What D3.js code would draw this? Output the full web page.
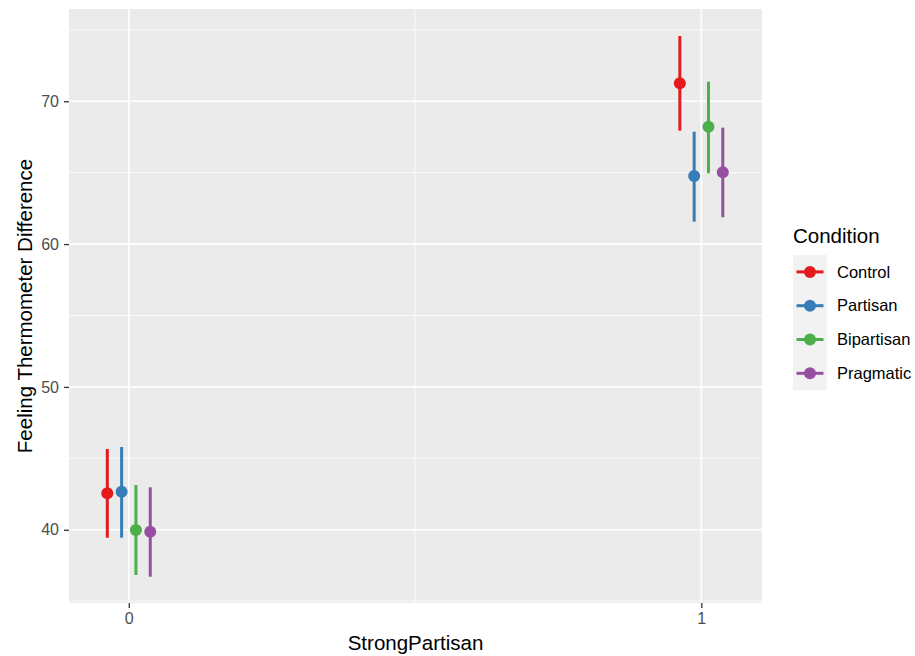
<!DOCTYPE html>
<html>
<head>
<meta charset="utf-8">
<script src="https://cdn.jsdelivr.net/npm/d3@7"></script>
<style>
  body { margin: 0; background: #fff; }
  text { font-family: "Liberation Sans", Arial, sans-serif; }
</style>
</head>
<body>
<div id="mydata"></div>
<script>
// data
var conditions = ["Control", "Partisan", "Bipartisan", "Pragmatic"];
var color = ["#E41A1C", "#377EB8", "#4DAF4A", "#984EA3"];
var strongPartisan = [0, 1];
// means, lower and upper bounds, by StrongPartisan group (rows) and condition (cols)
var means = [[42.55, 42.66, 39.98, 39.86], [71.26, 64.77, 68.22, 65.03]];
var lower = [[39.44, 39.44, 36.83, 36.71], [67.94, 61.57, 64.96, 61.88]];
var upper = [[45.65, 45.79, 43.13, 42.97], [74.57, 67.87, 71.37, 68.15]];
var yTicks = [40, 50, 60, 70];
var yMinor = [35, 45, 55, 65, 75];
var xMinor = [0.5];
var dodgeWidth = 0.1;

var rows = [];
strongPartisan.forEach(function(g, i) {
  conditions.forEach(function(c, j) {
    rows.push({group: g, cond: c, k: j, mean: means[i][j], lo: lower[i][j], hi: upper[i][j]});
  });
});

// location and scale of the graph
var W = 915, H = 656;
var panel = {left: 69, top: 9, right: 762, bottom: 603};

var svg = d3.select("#mydata")
  .append("svg")
  .attr("width", W)
  .attr("height", H);

var x = d3.scaleLinear()
  .domain([-0.1044, 1.106])
  .range([panel.left, panel.right]);

var y = d3.scaleLinear()
  .domain([34.87, 76.46])
  .range([panel.bottom, panel.top]);

var colorScale = d3.scaleOrdinal()
  .domain(conditions)
  .range(color);

// dodge offset like position_dodge
var dodge = function(k) {
  return (k - (conditions.length - 1) / 2) * dodgeWidth / conditions.length;
};

// panel background
svg.append("rect")
  .attr("x", panel.left)
  .attr("y", panel.top)
  .attr("width", panel.right - panel.left)
  .attr("height", panel.bottom - panel.top)
  .attr("fill", "#EBEBEB");

// grid lines
var grid = svg.append("g");
grid.selectAll(".yminor")
  .data(yMinor)
  .enter()
  .append("line")
  .attr("x1", panel.left).attr("x2", panel.right)
  .attr("y1", function(d) { return y(d); })
  .attr("y2", function(d) { return y(d); })
  .attr("stroke", "#fff").attr("stroke-width", 0.8);
grid.selectAll(".xminor")
  .data(xMinor)
  .enter()
  .append("line")
  .attr("y1", panel.top).attr("y2", panel.bottom)
  .attr("x1", function(d) { return x(d); })
  .attr("x2", function(d) { return x(d); })
  .attr("stroke", "#fff").attr("stroke-width", 0.8);
grid.selectAll(".ymajor")
  .data(yTicks)
  .enter()
  .append("line")
  .attr("x1", panel.left).attr("x2", panel.right)
  .attr("y1", function(d) { return y(d); })
  .attr("y2", function(d) { return y(d); })
  .attr("stroke", "#fff").attr("stroke-width", 1.6);
grid.selectAll(".xmajor")
  .data(strongPartisan)
  .enter()
  .append("line")
  .attr("y1", panel.top).attr("y2", panel.bottom)
  .attr("x1", function(d) { return x(d); })
  .attr("x2", function(d) { return x(d); })
  .attr("stroke", "#fff").attr("stroke-width", 1.6);

// Add X axis
var xAxis = svg.append("g")
  .attr("transform", "translate(0," + panel.bottom + ")")
  .call(d3.axisBottom(x).tickValues(strongPartisan).tickSize(5).tickPadding(5).tickFormat(d3.format("d")));

// Add Y axis
var yAxis = svg.append("g")
  .attr("transform", "translate(" + panel.left + ",0)")
  .call(d3.axisLeft(y).tickValues(yTicks).tickSize(5).tickPadding(5));

[xAxis, yAxis].forEach(function(a) {
  a.select(".domain").remove();
  a.selectAll(".tick line").attr("stroke", "#333").attr("stroke-width", 1.3);
  a.selectAll(".tick text")
    .attr("fill", "#4D4D4D")
    .style("font-size", "16px")
    .style("font-family", "Liberation Sans, Arial, sans-serif");
});

// axis titles
svg.append("text")
  .attr("x", (panel.left + panel.right) / 2)
  .attr("y", 650)
  .attr("text-anchor", "middle")
  .style("font-size", "20.5px")
  .attr("fill", "#000")
  .text("StrongPartisan");

svg.append("text")
  .attr("transform", "translate(32," + (panel.top + panel.bottom) / 2 + ") rotate(-90)")
  .attr("text-anchor", "middle")
  .style("font-size", "20.5px")
  .attr("fill", "#000")
  .text("Feeling Thermometer Difference");

// error bars and points
var marks = svg.append("g");
marks.selectAll(".bar")
  .data(rows)
  .enter()
  .append("line")
  .attr("x1", function(d) { return x(d.group + dodge(d.k)); })
  .attr("x2", function(d) { return x(d.group + dodge(d.k)); })
  .attr("y1", function(d) { return y(d.lo); })
  .attr("y2", function(d) { return y(d.hi); })
  .attr("stroke", function(d) { return colorScale(d.cond); })
  .attr("stroke-width", 3);

marks.selectAll(".dot")
  .data(rows)
  .enter()
  .append("circle")
  .attr("cx", function(d) { return x(d.group + dodge(d.k)); })
  .attr("cy", function(d) { return y(d.mean); })
  .attr("r", 6)
  .attr("fill", function(d) { return colorScale(d.cond); });

// legend
var legend = svg.append("g");
legend.append("text")
  .attr("x", 793)
  .attr("y", 243)
  .style("font-size", "20.5px")
  .attr("fill", "#000")
  .text("Condition");

var keySize = 33.8, keyTop = 255;
for (var i = 0; i < conditions.length; i++) {
  var cy = keyTop + keySize * i + keySize / 2;
  legend.append("rect")
    .attr("x", 793)
    .attr("y", keyTop + keySize * i)
    .attr("width", keySize)
    .attr("height", keySize)
    .attr("fill", "#F2F2F2");
  legend.append("line")
    .attr("x1", 796.5).attr("x2", 823.5)
    .attr("y1", cy).attr("y2", cy)
    .attr("stroke", color[i])
    .attr("stroke-width", 3);
  legend.append("circle")
    .attr("cx", 810)
    .attr("cy", cy)
    .attr("r", 6)
    .attr("fill", color[i]);
  legend.append("text")
    .attr("x", 837)
    .attr("y", cy)
    .attr("dy", "0.35em")
    .style("font-size", "16.5px")
    .attr("fill", "#000")
    .text(conditions[i]);
}
</script>
</body>
</html>
